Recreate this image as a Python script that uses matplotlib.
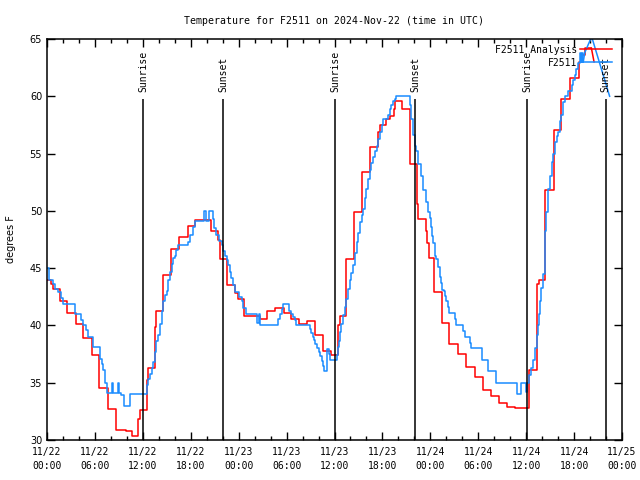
import numpy as np
import matplotlib
matplotlib.use("Agg")
import matplotlib.pyplot as plt

# hours since 2024-11-22 00:00 UTC, temperature in F (step data)
analysis_hours = [0, 0.5, 0.7, 1.6, 2.5, 3.6, 4.55, 5.6, 6.55, 7.6, 8.6, 9.9, 10.6, 11.43, 11.64,
                  12.47, 12.68, 13.5, 13.7, 14.56, 15.5, 16.56, 17.6, 18.5, 20.5, 21.44, 21.65,
                  22.6, 23.5, 23.9, 24.7, 26.7, 27.6, 28.6, 29.7, 30.6, 31.6, 32.6, 33.6, 34.6,
                  35.6, 36.5, 36.7, 37.5, 38.5, 39.5, 40.4, 41.5, 41.7, 42.5, 43.0, 43.4, 43.56,
                  44.5, 45.43, 46.3, 46.5, 47.43, 47.6, 47.8, 48.5, 49.4, 50.4, 51.5, 52.5, 53.6,
                  54.6, 55.6, 56.6, 57.6, 58.6, 60.3, 61.4, 61.6, 62.3, 63.5, 64.4, 65.5, 66.6,
                  67.0, 67.33, 68.17]
analysis_temp = [44.0, 43.6, 43.2, 42.1, 41.1, 40.1, 38.9, 37.4, 34.5, 32.7, 30.85, 30.8, 30.35, 31.8, 32.6,
                 35.2, 36.25, 39.9, 41.25, 44.4, 46.7, 47.75, 48.7, 49.2, 48.2, 47.45, 45.8,
                 43.5, 42.8, 42.3, 40.8, 40.6, 41.25, 41.5, 41.1, 40.6, 40.1, 40.4, 39.2, 37.8,
                 37.4, 40.0, 40.85, 45.8, 49.9, 53.4, 55.6, 56.9, 57.5, 58.0, 58.3, 58.9, 59.6,
                 58.9, 54.1, 50.6, 49.3, 48.2, 47.2, 45.9, 42.9, 40.2, 38.4, 37.5, 36.4, 35.5,
                 34.4, 33.8, 33.2, 32.9, 32.75, 36.1, 43.6, 44.0, 51.8, 57.1, 59.8, 61.6, 63.0,
                 63.6, 64.2, 64.2]
analysis_tail_hours = [68.17, 68.5]
analysis_tail_temp = [64.2, 63.0]

obs_hours = [0, 0.25, 0.7, 1.0, 1.42, 1.75, 2.04, 3.5, 4.3, 4.55, 4.9, 5.17, 5.8, 6.63, 6.85,
             7.05, 7.3, 7.55, 8.1, 8.3, 8.93, 9.05, 9.3, 9.64, 10.39, 12.47, 12.68, 12.9, 13.1,
             13.3, 13.5, 13.7, 13.93, 14.15, 14.35, 14.56, 14.77, 15.0, 15.18, 15.4, 15.6, 15.8,
             16.0, 16.2, 16.4, 17.7, 17.9, 18.3, 18.5, 19.65, 19.95, 20.3, 20.74, 20.9, 21.2,
             21.5, 21.86, 22.1, 22.3, 22.5, 22.7, 22.9, 23.1, 23.3, 23.5, 24.1, 24.37, 24.6,
             24.87, 26.24, 26.5, 26.7, 28.95, 29.16, 29.4, 29.58, 30.29, 30.5, 30.8, 31.04,
             31.16, 32.9, 33.1, 33.25, 33.45, 33.6, 33.75, 34.0, 34.17, 34.4, 34.58, 34.7,
             35.0, 35.1, 35.3, 35.46, 36.3, 36.45, 36.6, 36.67, 36.85, 37.08, 37.3, 37.5, 37.7,
             37.92, 38.1, 38.3, 38.55, 38.76, 38.95, 39.17, 39.4, 39.6, 39.8, 40.0, 40.2, 40.4,
             40.6, 40.84, 41.05, 41.26, 41.47, 41.68, 41.9, 42.1, 42.7, 42.93, 43.1, 43.34,
             43.55, 43.76, 45.3, 45.43, 45.6, 45.85, 46.06, 46.2, 46.47, 46.81, 47.1, 47.4,
             47.73, 47.9, 48.06, 48.2, 48.35, 48.56, 48.75, 48.98, 49.19, 49.35, 49.52, 49.7,
             49.85, 50.02, 50.15, 50.31, 51.1, 51.27, 52.1, 52.4, 52.95, 53.15, 54.53, 55.24,
             56.28, 58.79, 59.4, 59.95, 60.1, 60.3, 60.45, 60.65, 60.87, 61.08, 61.3, 61.5,
             61.6, 61.7, 61.9, 62.1, 62.3, 62.4, 62.5, 62.7, 62.95, 63.2, 63.4, 63.6, 63.8,
             64.0, 64.2, 64.4, 64.6, 64.8, 65.3, 65.7, 65.9, 66.1, 66.3, 66.5, 66.7, 66.85,
             67.0, 67.15]
obs_temp = [45.0, 44.0, 43.6, 43.2, 42.9, 42.4, 41.9, 41.0, 40.5, 40.0, 39.6, 39.0, 38.1, 37.1, 36.6,
            36.1, 35.0, 34.1, 35.0, 34.1, 35.0, 34.1, 33.9, 33.0, 34.0, 34.8, 35.3, 35.8, 36.25,
            36.8, 37.7, 38.6, 39.2, 40.1, 41.25, 42.1, 42.65, 43.0, 43.96, 44.7, 45.4, 45.9,
            46.1, 46.6, 47.0, 47.3, 47.9, 48.6, 49.1, 50.0, 49.1, 50.0, 49.3, 48.5, 47.9,
            47.4, 47.0, 46.5, 46.1, 45.7, 45.3, 44.7, 44.1, 43.5, 42.9, 42.5, 42.1, 41.5,
            41.0, 40.2, 41.0, 40.0, 40.6, 41.0, 41.4, 41.9, 41.3, 41.0, 40.7, 40.5,
            40.0, 39.7, 39.3, 39.0, 38.7, 38.4, 38.0, 37.7, 37.3, 36.9, 36.5, 36.0,
            36.8, 37.9, 37.5, 37.0, 37.4, 38.1, 38.6, 39.45, 40.1, 40.9, 41.6, 42.35, 43.2,
            44.0, 44.6, 45.3, 46.3, 47.3, 48.1, 49.05, 49.6, 50.2, 51.1, 51.95, 52.8, 53.6,
            54.2, 54.7, 55.2, 55.7, 56.3, 56.9, 57.5, 58.0, 58.4, 58.9, 59.2, 59.6,
            59.8, 60.0, 60.0, 59.2, 58.0, 56.6, 55.7, 55.2, 54.1, 53.0, 51.8, 50.8,
            49.9, 49.4, 48.6, 47.8, 47.2, 46.1, 45.8, 45.1, 44.25, 43.7, 43.1, 43.0,
            42.6, 42.1, 41.6, 41.05, 40.6, 40.0, 39.5, 39.0, 38.5, 38.0, 37.0, 36.05,
            34.95, 34.0, 35.0, 34.2, 35.0, 35.7, 35.7, 36.3, 37.0, 38.0, 39.2, 40.0,
            41.0, 42.1, 43.25, 44.5, 46.4, 48.2, 49.9, 51.95, 53.0, 54.3, 55.0, 56.0, 56.5,
            56.9, 57.8, 58.4, 59.5, 60.0, 60.5, 61.0, 61.4, 61.85, 62.4, 62.9, 63.8, 63.0,
            63.8, 63.0]
# last few observations are joined by straight lines
obs_tail_hours = [67.15, 67.33, 68.2, 70.45]
obs_tail_temp = [63.0, 63.8, 65.2, 60.0]

sun_hours = [12.05, 22.03, 36.05, 46.14, 60.1, 69.96]
sun_labels = ["Sunrise", "Sunset", "Sunrise", "Sunset", "Sunrise", "Sunset"]

tick_hours = list(range(0, 73, 6))
tick_labels = ["11/22\n00:00", "11/22\n06:00", "11/22\n12:00", "11/22\n18:00",
               "11/23\n00:00", "11/23\n06:00", "11/23\n12:00", "11/23\n18:00",
               "11/24\n00:00", "11/24\n06:00", "11/24\n12:00", "11/24\n18:00",
               "11/25\n00:00"]

mono = "DejaVu Sans Mono"
red = "#ff0000"
blue = "#1a8cff"

fig = plt.figure(figsize=(6.4, 4.8), dpi=100)
ax = fig.add_axes([47 / 640, 40 / 480, 575 / 640, 401 / 480])

ax.step(analysis_hours, analysis_temp, where="post", color=red, lw=1.1, label="F2511 Analysis")
ax.plot(analysis_tail_hours, analysis_tail_temp, color=red, lw=1.1)
ax.step(obs_hours, obs_temp, where="post", color=blue, lw=1.1, label="F2511")
ax.plot(obs_tail_hours, obs_tail_temp, color=blue, lw=1.1)

for h, lab in zip(sun_hours, sun_labels):
    ax.vlines(h, 30, 59.75, color="black", lw=1.1)
    ax.text(h, 60.35, lab, rotation=90, ha="center", va="bottom", family=mono, fontsize=7)

ax.set_xlim(0, 72)
ax.set_ylim(30, 65)
ax.set_xticks(tick_hours)
ax.set_xticklabels(tick_labels, family=mono, fontsize=7)
for t in ax.get_xticklabels():
    t.set_linespacing(1.5)
ax.set_xticks(np.arange(0, 73, 2), minor=True)
ax.set_yticks(range(30, 66, 5))
ax.tick_params(axis="both", which="both", direction="in", top=True, right=True, width=1)
ax.tick_params(axis="both", which="major", length=6, labelsize=7)
ax.tick_params(axis="x", which="major", pad=5)
ax.tick_params(axis="x", which="minor", length=3)
for s in ax.spines.values():
    s.set_linewidth(1.1)

ax.set_ylabel("degrees F", fontsize=7, labelpad=10)
ax.set_title("Temperature for F2511 on 2024-Nov-22 (time in UTC)", family=mono, fontsize=7.1, pad=11)

leg = ax.legend(loc="upper right", bbox_to_anchor=(1 - 5 / 575, 1 - 1 / 401),
                markerfirst=False, frameon=False, handlelength=3.3,
                handletextpad=0.3, labelspacing=0.3, borderaxespad=0.2, borderpad=0.3,
                prop={"family": mono, "size": 7})

fig.savefig("out.png", dpi=100)
